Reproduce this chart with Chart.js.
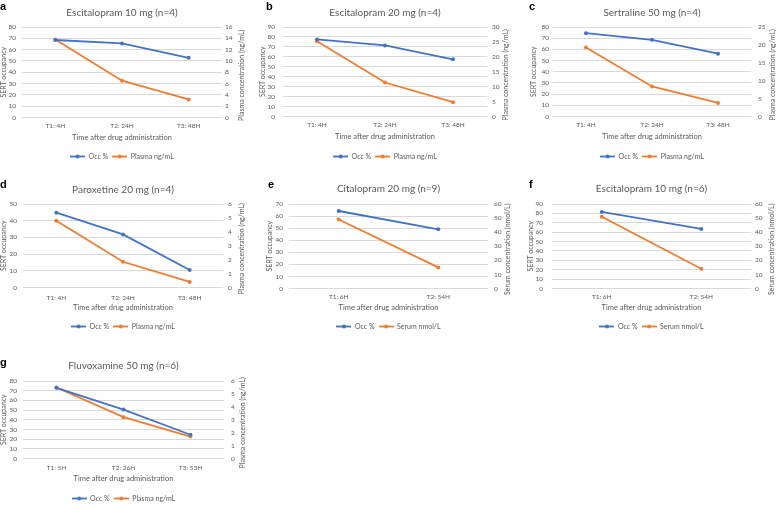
<!DOCTYPE html>
<html>
<head>
<meta charset="utf-8">
<script src="https://cdn.jsdelivr.net/npm/chart.js@4.4.1/dist/chart.umd.min.js"></script>
<style>
  body { margin: 0; background: #fff; width: 777px; height: 512px; position: relative; overflow: hidden; }
  canvas { position: absolute; }
</style>
</head>
<body>
<canvas id="pa"></canvas>
<canvas id="pb"></canvas>
<canvas id="pc"></canvas>
<canvas id="pd"></canvas>
<canvas id="pe"></canvas>
<canvas id="pf"></canvas>
<canvas id="pg"></canvas>
<script>
// data
const cats48 = ['T1: 4H', 'T2: 24H', 'T3: 48H'];
const cats54 = ['T1: 6H', 'T2: 54H'];
const cats53 = ['T1: 5H', 'T2: 26H', 'T3: 53H'];

const occA = [68.5, 65.5, 52.8];
const plasmaA = [13.8, 6.5, 3.2];
const occB = [77.5, 71.5, 57.5];
const plasmaB = [25.2, 11.4, 4.8];
const occC = [74.5, 68.5, 56.2];
const plasmaC = [19.3, 8.4, 3.8];
const occD = [44.8, 31.8, 10.5];
const plasmaD = [4.8, 1.85, 0.4];
const occE = [64.2, 49];
const serumE = [49, 15];
const occF = [81.5, 63.5];
const serumF = [51, 14];
const occG = [73, 50.5, 24.5];
const plasmaG = [5.5, 3.2, 1.7];

const FONT = 'Lato, "Open Sans", sans-serif';
const GREY = '#595959';
const BLUE = '#4472C4';
const ORANGE = '#ED7D31';

function marker(color) {
  const c = document.createElement('canvas');
  c.width = 15; c.height = 5;
  const g = c.getContext('2d');
  g.strokeStyle = color; g.lineWidth = 1.8;
  g.beginPath(); g.moveTo(0, 2.5); g.lineTo(15, 2.5); g.stroke();
  g.fillStyle = color;
  g.beginPath(); g.arc(7.5, 2.5, 2, 0, Math.PI * 2); g.fill();
  return c;
}

// panel letter + right axis title (reads bottom to top like the original)
const overlay = {
  id: 'overlay',
  afterDraw(chart, args, o) {
    const ctx = chart.ctx, a = chart.chartArea;
    ctx.save();
    ctx.fillStyle = '#000';
    ctx.font = 'bold 11px "Liberation Sans", Arial, sans-serif';
    ctx.textBaseline = 'alphabetic';
    ctx.fillText(o.letter, o.lx, o.ly);
    ctx.fillStyle = GREY;
    ctx.font = '7px ' + FONT;
    ctx.translate(o.rx, (a.top + a.bottom) / 2 + 3);
    ctx.rotate(-Math.PI / 2);
    ctx.textAlign = 'center';
    ctx.textBaseline = 'middle';
    ctx.fillText(o.rightTitle, 0, 0);
    ctx.restore();
  }
};

function panel(p) {
  const cv = document.getElementById(p.id);
  cv.width = p.w; cv.height = p.h;
  cv.style.left = p.x + 'px'; cv.style.top = p.y + 'px';
  const L = p.L - p.x, R = p.R - p.x, T = p.T - p.y, B = p.B - p.y;
  const ty = p.titleY - p.y;
  const tickF = 6.5, axF = 7, legF = 7, legPad = 4;
  const xh = p.legendY - p.y - legPad - legF / 2 - B;

  new Chart(cv, {
    type: 'line',
    data: {
      labels: p.cats,
      datasets: [
        { label: 'Occ %', data: p.occ, yAxisID: 'y', borderColor: BLUE, backgroundColor: BLUE,
          borderWidth: 1.8, pointRadius: 2, pointBorderWidth: 0, tension: 0 },
        { label: p.concLabel, data: p.conc, yAxisID: 'y1', borderColor: ORANGE, backgroundColor: ORANGE,
          borderWidth: 1.8, pointRadius: 2, pointBorderWidth: 0, tension: 0 }
      ]
    },
    options: {
      responsive: false,
      animation: false,
      layout: { padding: 0 },
      scales: {
        x: {
          offset: true,
          grid: { display: false, drawTicks: false },
          border: { display: false },
          ticks: { font: { family: FONT, size: tickF }, color: GREY, maxRotation: 0, autoSkip: false,
                   padding: p.catY - p.y - B - tickF * 1.2 / 2 },
          title: { display: true, text: 'Time after drug administration', color: GREY,
                   font: { family: FONT, size: 7.5 },
                   padding: { top: 0, bottom: B + xh - (p.xTitleY - p.y) - 7.5 * 1.2 / 2 } },
          afterFit: s => { s.height = xh; }
        },
        y: {
          position: 'left', min: 0, max: p.yMax,
          grid: { color: '#d9d9d9', drawTicks: false },
          border: { display: false },
          ticks: { stepSize: p.yStep, autoSkip: false, font: { family: FONT, size: tickF }, color: GREY,
                   padding: L - (p.yLabR - p.x) },
          title: { display: true, text: 'SERT occupancy', color: GREY, font: { family: FONT, size: axF },
                   padding: { top: Math.max(0, p.yTitleX - p.x - axF * 1.2 / 2), bottom: 0 } },
          afterFit: s => { s.width = L; }
        },
        y1: {
          position: 'right', min: 0, max: p.y1Max,
          grid: { display: false, drawTicks: false },
          border: { display: false },
          ticks: { stepSize: p.y1Step, autoSkip: false, font: { family: FONT, size: tickF }, color: GREY,
                   padding: p.y1LabL - p.x - R },
          afterFit: s => { s.width = p.w - R; }
        }
      },
      plugins: {
        title: { display: true, text: p.title, fullSize: false, color: GREY,
                 font: { family: FONT, size: 10, weight: 'normal' },
                 padding: { top: ty - 6, bottom: T - ty - 6 } },
        legend: {
          position: 'bottom', fullSize: false,
          labels: {
            font: { family: FONT, size: legF }, color: GREY, padding: legPad,
            usePointStyle: true, pointStyleWidth: 15,
            generateLabels: chart => Chart.defaults.plugins.legend.labels.generateLabels(chart)
              .map((it, i) => Object.assign(it, { pointStyle: marker(i === 0 ? BLUE : ORANGE) }))
          }
        },
        tooltip: { enabled: false },
        overlay: { letter: p.letter, lx: p.lx - p.x, ly: p.ly - p.y,
                   rx: p.y1TitleX - p.x, rightTitle: p.rightTitle }
      }
    },
    plugins: [overlay]
  });
}

const plasmaTitle = 'Plasma concentration (ng/mL)';
const serumTitle = 'Serum concentration (nmol/L)';

panel({ id: 'pa', x: 0, y: 0, w: 258, h: 170, letter: 'a', lx: 0, ly: 10,
  title: 'Escitalopram 10 mg (n=4)', cats: cats48, occ: occA, conc: plasmaA, concLabel: 'Plasma ng/mL',
  rightTitle: plasmaTitle, yMax: 80, yStep: 10, y1Max: 16, y1Step: 2,
  titleY: 13, T: 27, B: 110, L: 22, R: 222, yLabR: 16, y1LabL: 225, yTitleX: 3.5, y1TitleX: 242,
  catY: 118, xTitleY: 130, legendY: 149 });

panel({ id: 'pb', x: 258, y: 0, w: 258, h: 170, letter: 'b', lx: 266, ly: 10,
  title: 'Escitalopram 20 mg (n=4)', cats: cats48, occ: occB, conc: plasmaB, concLabel: 'Plasma ng/mL',
  rightTitle: plasmaTitle, yMax: 90, yStep: 10, y1Max: 30, y1Step: 5,
  titleY: 13, T: 27, B: 110, L: 283, R: 487, yLabR: 275, y1LabL: 492, yTitleX: 263, y1TitleX: 506,
  catY: 118, xTitleY: 130, legendY: 150 });

panel({ id: 'pc', x: 516, y: 0, w: 261, h: 170, letter: 'c', lx: 529, ly: 10,
  title: 'Sertraline 50 mg (n=4)', cats: cats48, occ: occC, conc: plasmaC, concLabel: 'Plasma ng/mL',
  rightTitle: plasmaTitle, yMax: 80, yStep: 10, y1Max: 25, y1Step: 5,
  titleY: 13, T: 27, B: 110, L: 553, R: 751, yLabR: 549, y1LabL: 758, yTitleX: 534, y1TitleX: 773,
  catY: 118, xTitleY: 130, legendY: 150 });

panel({ id: 'pd', x: 0, y: 170, w: 258, h: 170, letter: 'd', lx: 0, ly: 188,
  title: 'Paroxetine 20 mg (n=4)', cats: cats48, occ: occD, conc: plasmaD, concLabel: 'Plasma ng/mL',
  rightTitle: plasmaTitle, yMax: 50, yStep: 10, y1Max: 6, y1Step: 1,
  titleY: 190, T: 204, B: 287, L: 23, R: 223, yLabR: 17, y1LabL: 228, yTitleX: 3.5, y1TitleX: 242,
  catY: 297, xTitleY: 307, legendY: 326 });

panel({ id: 'pe', x: 258, y: 170, w: 258, h: 170, letter: 'e', lx: 268, ly: 188,
  title: 'Citalopram 20 mg (n=9)', cats: cats54, occ: occE, conc: serumE, concLabel: 'Serum nmol/L',
  rightTitle: serumTitle, yMax: 70, yStep: 10, y1Max: 60, y1Step: 10,
  titleY: 189, T: 204, B: 287, L: 289, R: 488, yLabR: 283, y1LabL: 494, yTitleX: 270, y1TitleX: 508,
  catY: 295, xTitleY: 306, legendY: 325 });

panel({ id: 'pf', x: 516, y: 170, w: 261, h: 170, letter: 'f', lx: 529, ly: 188,
  title: 'Escitalopram 10 mg (n=6)', cats: cats54, occ: occF, conc: serumF, concLabel: 'Serum nmol/L',
  rightTitle: serumTitle, yMax: 90, yStep: 10, y1Max: 60, y1Step: 10,
  titleY: 189, T: 204, B: 287, L: 552, R: 751, yLabR: 543, y1LabL: 755, yTitleX: 531, y1TitleX: 772,
  catY: 295, xTitleY: 306, legendY: 325 });

panel({ id: 'pg', x: 0, y: 340, w: 258, h: 172, letter: 'g', lx: 0, ly: 366,
  title: 'Fluvoxamine 50 mg (n=6)', cats: cats53, occ: occG, conc: plasmaG, concLabel: 'Plasma ng/mL',
  rightTitle: plasmaTitle, yMax: 80, yStep: 10, y1Max: 6, y1Step: 1,
  titleY: 366, T: 381, B: 463, L: 23, R: 224, yLabR: 17, y1LabL: 231, yTitleX: 3.5, y1TitleX: 243,
  catY: 472, xTitleY: 483, legendY: 503 });
</script>
</body>
</html>
